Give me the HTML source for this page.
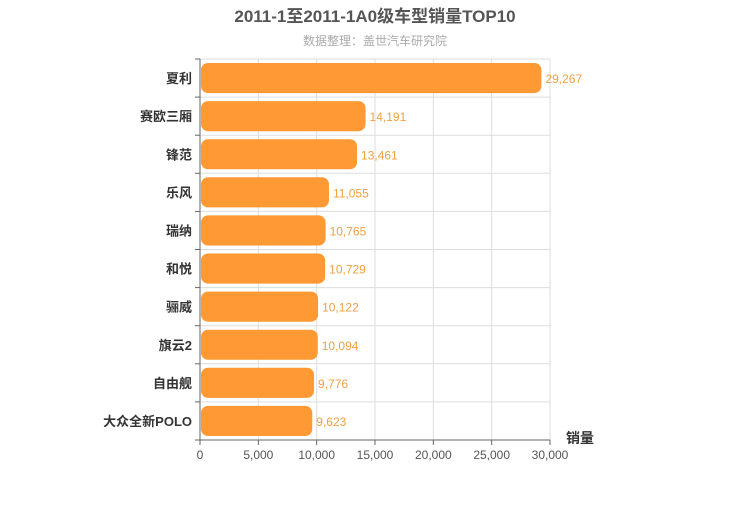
<!DOCTYPE html>
<html><head><meta charset="utf-8"><style>
body{margin:0;background:#fff;}
svg{font-family:"Liberation Sans","Noto Sans CJK SC",sans-serif;}
</style></head><body>
<svg id="c" width="750" height="500" xmlns="http://www.w3.org/2000/svg">
<text x="375" y="22" text-anchor="middle" font-size="17" font-weight="bold" fill="#555">2011-1至2011-1A0级车型销量TOP10</text>
<text x="375" y="45" text-anchor="middle" font-size="12" fill="#aaa">数据整理：盖世汽车研究院</text>
<g id="grid"></g><g id="bars"></g><g id="axes"></g>
<text x="580" y="443" text-anchor="middle" font-size="14" font-weight="bold" fill="#333">销量</text>
</svg>
<script>
const categories=["夏利","赛欧三厢","锋范","乐风","瑞纳","和悦","骊威","旗云2","自由舰","大众全新POLO"];
const values=[29267,14191,13461,11055,10765,10729,10122,10094,9776,9623];
const ticks=[0,5000,10000,15000,20000,25000,30000];
const NS="http://www.w3.org/2000/svg";
const X0=200,X1=550,Y0=59,Y1=440,MAX=30000;
const x=v=>X0+(X1-X0)*v/MAX;
const rowH=(Y1-Y0)/categories.length;
const y=i=>Y0+i*rowH;
function mk(t,a,p){const e=document.createElementNS(NS,t);for(const k in a)e.setAttribute(k,a[k]);p.appendChild(e);return e;}
const grid=document.getElementById('grid'),bars=document.getElementById('bars'),axes=document.getElementById('axes');
ticks.forEach(t=>{
 const l=mk('line',{x1:x(t),x2:x(t),y1:Y0,y2:Y1,stroke:'#ddd'},grid);
 
 
 const tl=mk('line',{x1:x(t),x2:x(t),y1:Y1,y2:Y1+5,stroke:'#666'},axes);
 
 
 const tx=mk('text',{x:x(t),y:Y1+19,'text-anchor':'middle','font-size':12,fill:'#555'},axes);
 tx.textContent=t.toLocaleString('en-US');
 
 
});
for(let i=0;i<=categories.length;i++){
 const l=mk('line',{x1:X0,x2:X1,y1:y(i),y2:y(i),stroke:'#ddd'},grid);
 
 
 const tk=mk('line',{x1:X0-5,x2:X0,y1:y(i),y2:y(i),stroke:'#666'},axes);
 
 
}
const ax=mk('line',{x1:X0,x2:X0,y1:Y0,y2:Y1,stroke:'#666'},axes);


const ax2=mk('line',{x1:X0,x2:X1,y1:Y1,y2:Y1,stroke:'#666'},axes);


categories.forEach((c,i)=>{
 const b=mk('rect',{x:X0+1,y:y(i)+4,width:x(values[i])-X0-1,height:rowH-8,rx:7,fill:'#ff9933'},bars);
 
 
 const v=mk('text',{x:x(values[i])+4,y:y(i)+rowH/2+5,'font-size':12,fill:'#f0a040'},bars);
 v.textContent=values[i].toLocaleString('en-US');
 
 
 const l=mk('text',{x:X0-8,y:y(i)+rowH/2+5,'text-anchor':'end','font-size':13,'font-weight':'bold',fill:'#333'},axes);
 l.textContent=c;
 
 
});
</script>
</body></html>
